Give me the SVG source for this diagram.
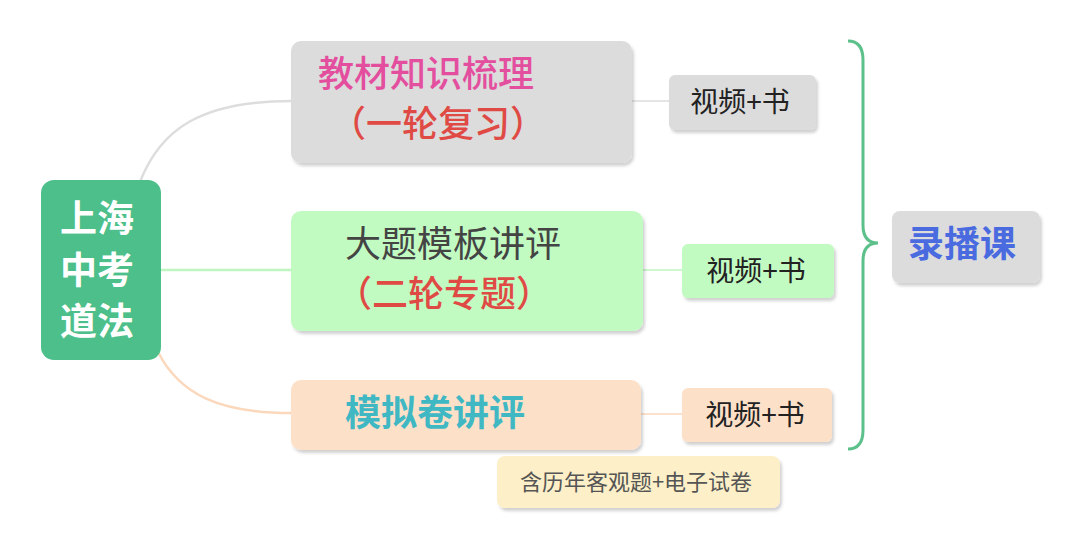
<svg xmlns="http://www.w3.org/2000/svg" width="1080" height="551" viewBox="0 0 1080 551">
<defs>
<filter id="sh" x="-10%" y="-10%" width="130%" height="140%"><feDropShadow dx="2" dy="3" stdDeviation="1.5" flood-color="#000" flood-opacity="0.18"/></filter>
</defs>
<style>
text{font-family:"Noto Sans CJK SC","Liberation Sans",sans-serif;}
.n{filter:url(#sh);}
.leaf{font-size:28px;fill:#222;}
</style>
<rect width="1080" height="551" fill="#fff"/>
<g id="connectors" fill="none" stroke-width="2.5">
<path d="M140,182 C160,130 200,101 291,101" stroke="#dddddd"/>
<path d="M161,270 L291,270" stroke="#bff5c0"/>
<path d="M158,352 C180,395 220,413 291,413" stroke="#fbd8bc"/>
<path d="M632,101 L669,101" stroke="#dddddd" stroke-width="1.5"/>
<path d="M643,270 L682,270" stroke="#bff5c0" stroke-width="1.5"/>
<path d="M641,414 L682,414" stroke="#fbd8bc" stroke-width="1.5"/>
<path d="M848,41 Q863,41 863,60 L863,225 Q863,243 878,243 Q863,243 863,261 L863,430 Q863,449 848,449" stroke="#5cc08a" stroke-width="3"/>
</g>
<g id="root"><rect x="41" y="180" width="120" height="180" rx="13" fill="#4cbf8a"/>
<text x="97" y="232" font-size="37" font-weight="bold" fill="#fff" text-anchor="middle">上海</text>
<text x="97" y="284" font-size="37" font-weight="bold" fill="#fff" text-anchor="middle">中考</text>
<text x="97" y="335" font-size="37" font-weight="bold" fill="#fff" text-anchor="middle">道法</text></g>
<g id="n1"><rect class="n" x="291" y="41" width="341" height="122" rx="10" fill="#dcdcdc"/>
<text x="318" y="87" font-size="36" font-weight="500" fill="#e34f9e">教材知识梳理</text>
<text x="330" y="137" font-size="36" font-weight="500" fill="#e04a45">（一轮复习）</text></g>
<g id="n2"><rect class="n" x="291" y="211" width="352" height="120" rx="10" fill="#c2fbc2"/>
<text x="345" y="257" font-size="36" fill="#444">大题模板讲评</text>
<text x="336" y="307" font-size="36" font-weight="500" fill="#e04a45">（二轮专题）</text></g>
<g id="n3"><rect class="n" x="291" y="380" width="350" height="70" rx="10" fill="#fde0c8"/>
<text x="345" y="426" font-size="36" font-weight="bold" fill="#3fb8c4">模拟卷讲评</text></g>
<g id="l1"><rect class="n" x="669" y="75" width="147" height="55" rx="6" fill="#dcdcdc"/><text class="leaf" x="740" y="112" text-anchor="middle">视频+书</text></g>
<g id="l2"><rect class="n" x="682" y="244" width="152" height="54" rx="6" fill="#c2fbc2"/><text class="leaf" x="756" y="281" text-anchor="middle">视频+书</text></g>
<g id="l3"><rect class="n" x="682" y="388" width="150" height="54" rx="6" fill="#fde0c8"/><text class="leaf" x="755" y="425" text-anchor="middle">视频+书</text></g>
<g id="note"><rect class="n" x="497" y="456" width="283" height="52" rx="8" fill="#fdf0c8"/><text x="636" y="490" font-size="22" fill="#555" text-anchor="middle">含历年客观题+电子试卷</text></g>
<g id="lbk"><rect class="n" x="892" y="211" width="148" height="72" rx="8" fill="#dcdcdc"/><text x="962" y="257" font-size="36" font-weight="bold" fill="#4a6ae0" text-anchor="middle">录播课</text></g>
</svg>
